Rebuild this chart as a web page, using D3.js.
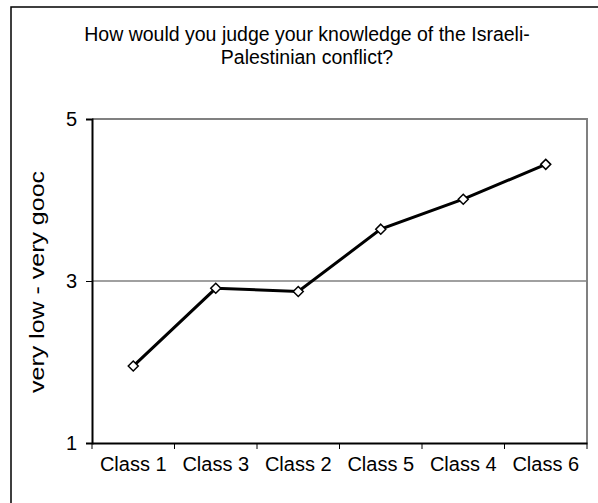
<!DOCTYPE html>
<html>
<head>
<meta charset="utf-8">
<script src="https://cdn.jsdelivr.net/npm/d3@7"></script>
<style>
    body { margin: 0; background: #fff; }
    text { font-family: Arial, "Liberation Sans", sans-serif; fill: #000; }
</style>
</head>
<body>
<div id="chart"></div>
<script>
const categories = ['Class 1', 'Class 3', 'Class 2', 'Class 5', 'Class 4', 'Class 6'];
const values = [1.95, 2.91, 2.87, 3.64, 4.01, 4.44];
const yTicks = [1, 3, 5];
const titleLines = ['How would you judge your knowledge of the Israeli-', 'Palestinian conflict?'];
const yLabel = 'very low - very gooc';

document.addEventListener('DOMContentLoaded', () => {
    const width = 598;
    const height = 503;
    const plot = { left: 92, top: 119, right: 587, bottom: 443 };

    const svg = d3.select('#chart')
        .append('svg')
        .attr('width', width)
        .attr('height', height);

    // chart area border (runs off the right and bottom edge)
    svg.append('rect')
        .attr('x', 11)
        .attr('y', 7)
        .attr('width', 620)
        .attr('height', 520)
        .attr('fill', 'none')
        .attr('stroke', '#000')
        .attr('stroke-width', 1.5);

    const x = d3.scaleBand()
        .domain(categories)
        .range([plot.left, plot.right])
        .padding(0);

    const y = d3.scaleLinear()
        .domain([1, 5])
        .range([plot.bottom, plot.top]);

    // title
    svg.append('g')
        .selectAll('text')
        .data(titleLines)
        .enter()
        .append('text')
        .attr('x', 307)
        .attr('y', (d, i) => 41 + i * 23)
        .attr('text-anchor', 'middle')
        .style('font-size', '19.5px')
        .text(d => d);

    // plot frame: gray top/right
    svg.append('path')
        .attr('d', `M${plot.left},${plot.top}H${plot.right}V${plot.bottom}`)
        .attr('fill', 'none')
        .attr('stroke', '#808080')
        .attr('stroke-width', 2);

    // gridline at 3
    svg.append('line')
        .attr('x1', plot.left)
        .attr('x2', plot.right)
        .attr('y1', y(3))
        .attr('y2', y(3))
        .attr('stroke', '#808080')
        .attr('stroke-width', 1.5);

    // y axis
    const yAxis = svg.append('g')
        .attr('transform', `translate(${plot.left},0)`)
        .call(d3.axisLeft(y).tickValues(yTicks).tickSize(6).tickPadding(9).tickFormat(d3.format('d')));
    yAxis.select('.domain').attr('stroke', '#000').attr('stroke-width', 2);
    yAxis.selectAll('.tick line').attr('stroke', '#000');
    yAxis.selectAll('text')
        .style('font-size', '20px')
        .style('font-family', 'Arial, "Liberation Sans", sans-serif');

    // x axis
    const xAxis = svg.append('g')
        .attr('transform', `translate(0,${plot.bottom})`)
        .call(d3.axisBottom(x).tickSize(0).tickPadding(14).tickSizeOuter(0));
    xAxis.select('.domain').attr('stroke', '#000').attr('stroke-width', 2);
    xAxis.selectAll('text')
        .style('font-size', '20px')
        .style('font-family', 'Arial, "Liberation Sans", sans-serif');

    const edges = categories.map(d => x(d)).concat([x.range()[1]]);
    xAxis.selectAll('.edge')
        .data(edges)
        .enter()
        .append('line')
        .attr('x1', d => d)
        .attr('x2', d => d)
        .attr('y1', 0)
        .attr('y2', 6)
        .attr('stroke', '#000');

    // y axis title (stretched along its length like the original)
    svg.append('text')
        .attr('transform', `translate(44,282) rotate(-90)`)
        .attr('text-anchor', 'middle')
        .attr('textLength', 222)
        .attr('lengthAdjust', 'spacingAndGlyphs')
        .style('font-size', '20px')
        .text(yLabel);

    const data = categories.map((c, i) => ({ label: c, value: values[i] }));

    const line = d3.line()
        .x(d => x(d.label) + x.bandwidth() / 2)
        .y(d => y(d.value));

    svg.append('path')
        .datum(data)
        .attr('d', line)
        .attr('fill', 'none')
        .attr('stroke', '#000')
        .attr('stroke-width', 3);

    svg.selectAll('.marker')
        .data(data)
        .enter()
        .append('path')
        .attr('class', 'marker')
        .attr('transform', d => `translate(${x(d.label) + x.bandwidth() / 2},${y(d.value)})`)
        .attr('d', 'M0,-5L5,0L0,5L-5,0Z')
        .attr('fill', '#fff')
        .attr('stroke', '#000')
        .attr('stroke-width', 1.5);
});
</script>
</body>
</html>
